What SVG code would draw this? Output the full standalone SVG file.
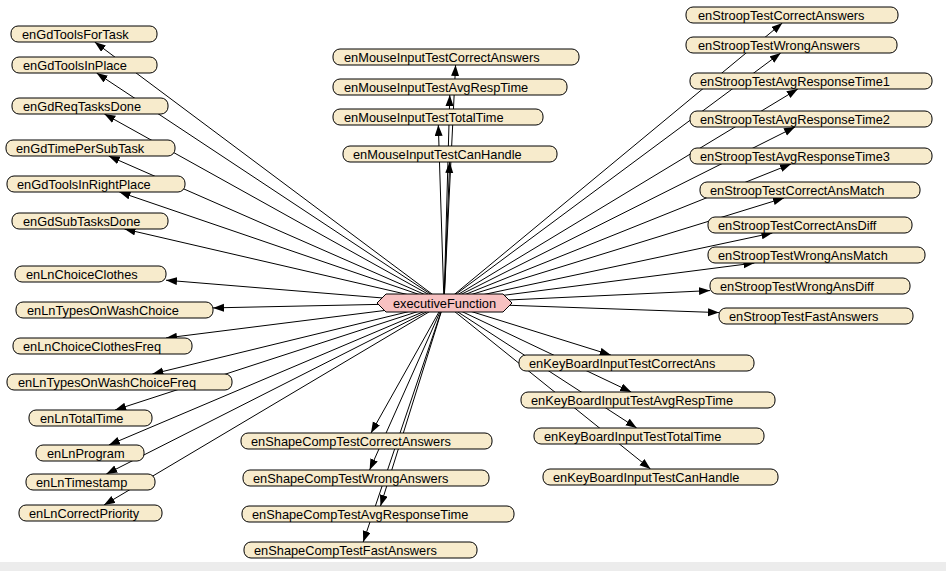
<svg xmlns="http://www.w3.org/2000/svg" width="946" height="571" viewBox="0 0 946 571">
<style>
.n rect{fill:#f7ebcc;stroke:#000;stroke-width:1}
.n text,.c text{font-family:"Liberation Sans",Arial,sans-serif;font-size:12.8px;fill:#000}
.e line{stroke:#000;stroke-width:1;marker-end:url(#ah)}
.c polygon{fill:#f7c1c1;stroke:#000;stroke-width:1}
</style>
<defs>
<marker id="ah" markerUnits="userSpaceOnUse" markerWidth="12" markerHeight="9" refX="11" refY="4" orient="auto">
<path d="M0,0 L11,4 L0,8 z" fill="#000"/>
</marker>
</defs>
<rect x="0" y="0" width="946" height="571" fill="#fff"/>
<rect x="0" y="562" width="946" height="9" fill="#ececec"/>
<g id="edges" class="e">
<line x1="444" y1="303" x2="94.7" y2="42"/>
<line x1="444" y1="303" x2="96.6" y2="73"/>
<line x1="444" y1="303" x2="104.4" y2="114"/>
<line x1="444" y1="303" x2="108.7" y2="156"/>
<line x1="444" y1="303" x2="119.4" y2="192"/>
<line x1="444" y1="303" x2="124.5" y2="229"/>
<line x1="444" y1="303" x2="166" y2="280.2"/>
<line x1="444" y1="303" x2="213" y2="307.9"/>
<line x1="444" y1="303" x2="166" y2="338"/>
<line x1="444" y1="303" x2="152.4" y2="374"/>
<line x1="444" y1="303" x2="115.1" y2="410"/>
<line x1="444" y1="303" x2="108.9" y2="445"/>
<line x1="444" y1="303" x2="106.3" y2="474"/>
<line x1="444" y1="303" x2="104" y2="505"/>
<line x1="444" y1="303" x2="455.6" y2="65"/>
<line x1="444" y1="303" x2="449.8" y2="95"/>
<line x1="444" y1="303" x2="438.3" y2="125"/>
<line x1="444" y1="303" x2="449.7" y2="162"/>
<line x1="444" y1="303" x2="782.3" y2="23"/>
<line x1="444" y1="303" x2="780.7" y2="53"/>
<line x1="444" y1="303" x2="797.8" y2="89"/>
<line x1="444" y1="303" x2="795" y2="127"/>
<line x1="444" y1="303" x2="791" y2="164"/>
<line x1="444" y1="303" x2="784" y2="198"/>
<line x1="444" y1="303" x2="772.4" y2="233"/>
<line x1="444" y1="303" x2="754.4" y2="263"/>
<line x1="444" y1="303" x2="710" y2="290.6"/>
<line x1="444" y1="303" x2="719" y2="312.6"/>
<line x1="444" y1="303" x2="371" y2="433"/>
<line x1="444" y1="303" x2="369.6" y2="470"/>
<line x1="444" y1="303" x2="380.5" y2="506"/>
<line x1="444" y1="303" x2="363.2" y2="542"/>
<line x1="444" y1="303" x2="610.8" y2="355"/>
<line x1="444" y1="303" x2="631.2" y2="392"/>
<line x1="444" y1="303" x2="636.7" y2="428"/>
<line x1="444" y1="303" x2="650.5" y2="469"/>
</g>
<g id="n1" class="n"><rect x="11" y="26" width="146" height="16" rx="7"/><text x="22" y="39">enGdToolsForTask</text></g>
<g id="n2" class="n"><rect x="12" y="57" width="145" height="16" rx="7"/><text x="23" y="70">enGdToolsInPlace</text></g>
<g id="n3" class="n"><rect x="12" y="98" width="156" height="16" rx="7"/><text x="23" y="111">enGdReqTasksDone</text></g>
<g id="n4" class="n"><rect x="6" y="140" width="169" height="16" rx="7"/><text x="16" y="153">enGdTimePerSubTask</text></g>
<g id="n5" class="n"><rect x="7" y="176" width="178" height="16" rx="7"/><text x="17" y="189">enGdToolsInRightPlace</text></g>
<g id="n6" class="n"><rect x="12" y="213" width="156" height="16" rx="7"/><text x="23" y="226">enGdSubTasksDone</text></g>
<g id="n7" class="n"><rect x="15" y="266" width="151" height="16" rx="7"/><text x="26" y="279">enLnChoiceClothes</text></g>
<g id="n8" class="n"><rect x="16" y="302" width="197" height="16" rx="7"/><text x="27" y="315">enLnTypesOnWashChoice</text></g>
<g id="n9" class="n"><rect x="13" y="338" width="179" height="16" rx="7"/><text x="23" y="351">enLnChoiceClothesFreq</text></g>
<g id="n10" class="n"><rect x="7" y="374" width="225" height="16" rx="7"/><text x="18" y="387">enLnTypesOnWashChoiceFreq</text></g>
<g id="n11" class="n"><rect x="29" y="410" width="123" height="16" rx="7"/><text x="40" y="423">enLnTotalTime</text></g>
<g id="n12" class="n"><rect x="36" y="445" width="108" height="16" rx="7"/><text x="47" y="458">enLnProgram</text></g>
<g id="n13" class="n"><rect x="26" y="474" width="129" height="16" rx="7"/><text x="36" y="487">enLnTimestamp</text></g>
<g id="n14" class="n"><rect x="19" y="505" width="143" height="16" rx="7"/><text x="29" y="518">enLnCorrectPriority</text></g>
<g id="n15" class="n"><rect x="333" y="49" width="246" height="16" rx="7"/><text x="344" y="62">enMouseInputTestCorrectAnswers</text></g>
<g id="n16" class="n"><rect x="333" y="79" width="234" height="16" rx="7"/><text x="344" y="92">enMouseInputTestAvgRespTime</text></g>
<g id="n17" class="n"><rect x="333" y="109" width="210" height="16" rx="7"/><text x="344" y="122">enMouseInputTestTotalTime</text></g>
<g id="n18" class="n"><rect x="343" y="146" width="214" height="16" rx="7"/><text x="353" y="159">enMouseInputTestCanHandle</text></g>
<g id="n19" class="n"><rect x="686" y="7" width="212" height="16" rx="7"/><text x="698" y="20">enStroopTestCorrectAnswers</text></g>
<g id="n20" class="n"><rect x="686" y="37" width="211" height="16" rx="7"/><text x="698" y="50">enStroopTestWrongAnswers</text></g>
<g id="n21" class="n"><rect x="690" y="73" width="242" height="16" rx="7"/><text x="700" y="86">enStroopTestAvgResponseTime1</text></g>
<g id="n22" class="n"><rect x="690" y="111" width="242" height="16" rx="7"/><text x="700" y="124">enStroopTestAvgResponseTime2</text></g>
<g id="n23" class="n"><rect x="690" y="148" width="242" height="16" rx="7"/><text x="700" y="161">enStroopTestAvgResponseTime3</text></g>
<g id="n24" class="n"><rect x="700" y="182" width="220" height="16" rx="7"/><text x="710" y="195">enStroopTestCorrectAnsMatch</text></g>
<g id="n25" class="n"><rect x="708" y="217" width="204" height="16" rx="7"/><text x="718" y="230">enStroopTestCorrectAnsDiff</text></g>
<g id="n26" class="n"><rect x="708" y="247" width="217" height="16" rx="7"/><text x="718" y="260">enStroopTestWrongAnsMatch</text></g>
<g id="n27" class="n"><rect x="710" y="278" width="200" height="16" rx="7"/><text x="720" y="291">enStroopTestWrongAnsDiff</text></g>
<g id="n28" class="n"><rect x="719" y="308" width="194" height="16" rx="7"/><text x="729" y="321">enStroopTestFastAnswers</text></g>
<g id="n29" class="n"><rect x="241" y="433" width="251" height="16" rx="7"/><text x="251" y="446">enShapeCompTestCorrectAnswers</text></g>
<g id="n30" class="n"><rect x="243" y="470" width="246" height="16" rx="7"/><text x="253" y="483">enShapeCompTestWrongAnswers</text></g>
<g id="n31" class="n"><rect x="242" y="506" width="272" height="16" rx="7"/><text x="252" y="519">enShapeCompTestAvgResponseTime</text></g>
<g id="n32" class="n"><rect x="244" y="542" width="233" height="16" rx="7"/><text x="254" y="555">enShapeCompTestFastAnswers</text></g>
<g id="n33" class="n"><rect x="519" y="355" width="235" height="16" rx="7"/><text x="529" y="368">enKeyBoardInputTestCorrectAns</text></g>
<g id="n34" class="n"><rect x="521" y="392" width="254" height="16" rx="7"/><text x="531" y="405">enKeyBoardInputTestAvgRespTime</text></g>
<g id="n35" class="n"><rect x="534" y="428" width="230" height="16" rx="7"/><text x="544" y="441">enKeyBoardInputTestTotalTime</text></g>
<g id="n36" class="n"><rect x="543" y="469" width="235" height="16" rx="7"/><text x="553" y="482">enKeyBoardInputTestCanHandle</text></g>
<g id="executiveFunction" class="c"><polygon points="377,303 386,294 503,294 512,303 503,312 386,312"/><text x="444.5" y="308" text-anchor="middle">executiveFunction</text></g>
</svg>
